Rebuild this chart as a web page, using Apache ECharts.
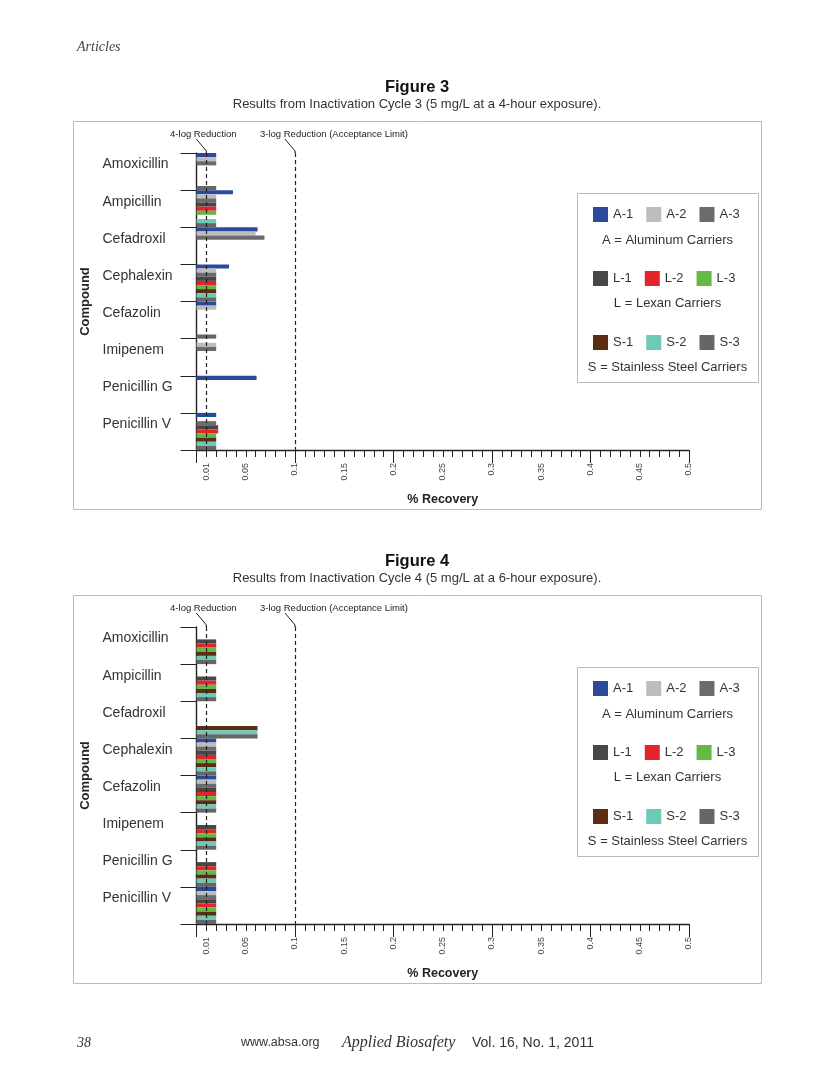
<!DOCTYPE html>
<html><head><meta charset="utf-8">
<script src="https://cdn.jsdelivr.net/npm/echarts@6/dist/echarts.min.js"></script>
<style>html,body{margin:0;padding:0;background:#fff}#c{width:835px;height:1080px}</style>
</head><body><div id="c"></div>
<script>
// ---------------- data ----------------
const compounds = ['Amoxicillin','Ampicillin','Cefadroxil','Cephalexin','Cefazolin','Imipenem','Penicillin G','Penicillin V'];
const seriesNames = ['A-1','A-2','A-3','L-1','L-2','L-3','S-1','S-2','S-3'];
const seriesColors = ['#2b4a9c','#bdbdbd','#6b6b6b','#474747','#e3252b','#63b946','#5b2e14','#6ecab6','#666666'];
const xTickLabels = ['0.01','0.05','0.1','0.15','0.2','0.25','0.3','0.35','0.4','0.45','0.5'];
const limitValues = [0.01, 0.1];
const limitLabels = ['4-log Reduction','3-log Reduction (Acceptance Limit)'];
const legendRows = [['A-1','A-2','A-3'],['L-1','L-2','L-3'],['S-1','S-2','S-3']];
const legendCaptions = ['A = Aluminum Carriers','L = Lexan Carriers','S = Stainless Steel Carriers'];
const figureTitles = ['Figure 3','Figure 4'];
const figureSubtitles = ['Results from Inactivation Cycle 3 (5 mg/L at a 4-hour exposure).','Results from Inactivation Cycle 4 (5 mg/L at a 6-hour exposure).'];

// Figure 3 (% recovery per compound, null = no bar)
const fig3_A1 = [0.02, 0.037, 0.062, 0.033, 0.02, null, 0.061, 0.02];
const fig3_A2 = [0.02, 0.02, 0.06, 0.02, 0.02, 0.02, null, null];
const fig3_A3 = [0.02, 0.02, 0.069, 0.02, null, 0.02, null, 0.02];
const fig3_L1 = [null, 0.02, null, 0.02, null, null, null, 0.022];
const fig3_L2 = [null, 0.02, null, 0.02, null, null, null, 0.022];
const fig3_L3 = [null, 0.02, null, 0.02, null, null, null, 0.02];
const fig3_S1 = [null, null, null, 0.02, null, null, null, 0.02];
const fig3_S2 = [null, 0.02, null, 0.02, null, null, null, 0.02];
const fig3_S3 = [0.02, 0.02, null, 0.02, 0.02, null, null, 0.02];

// Figure 4
const fig4_A1 = [null, null, null, 0.02, 0.02, null, null, 0.02];
const fig4_A2 = [null, null, null, 0.02, 0.02, null, null, 0.02];
const fig4_A3 = [null, null, null, 0.02, 0.02, null, null, 0.02];
const fig4_L1 = [0.02, 0.02, null, 0.02, 0.02, 0.02, 0.02, 0.02];
const fig4_L2 = [0.02, 0.02, null, 0.02, 0.02, 0.02, 0.02, 0.02];
const fig4_L3 = [0.02, 0.02, null, 0.02, 0.02, 0.02, 0.02, 0.02];
const fig4_S1 = [0.02, 0.02, 0.062, 0.02, 0.02, 0.02, 0.02, 0.02];
const fig4_S2 = [0.02, 0.02, 0.062, 0.02, 0.02, 0.02, 0.02, 0.02];
const fig4_S3 = [0.02, 0.02, 0.062, 0.02, 0.02, 0.02, 0.02, 0.02];

const figSeries = [
  [fig3_A1, fig3_A2, fig3_A3, fig3_L1, fig3_L2, fig3_L3, fig3_S1, fig3_S2, fig3_S3],
  [fig4_A1, fig4_A2, fig4_A3, fig4_L1, fig4_L2, fig4_L3, fig4_S1, fig4_S2, fig4_S3]
];

// ---------------- layout ----------------
const FIG_DY = 474;
const SANS = '"Liberation Sans", Arial, Helvetica, sans-serif';
const SERIF = '"Liberation Serif", "Times New Roman", serif';
const INK = '#222';

const chart = echarts.init(document.getElementById('c'), null, {renderer: 'canvas'});

const grids = [], xAxes = [], yAxes = [], series = [], legends = [], staticGraphics = [];

staticGraphics.push({type:'text', style:{text:'Articles', x:77, y:47, verticalAlign:'middle', font:'italic 14px ' + SERIF, fill:'#444'}});

figSeries.forEach((vals, g) => {
  const dy = g * FIG_DY;
  grids.push({left: 196.5, top: 153 + dy, width: 492.5, height: 297, outerBoundsMode: 'none'});
  xAxes.push({
    gridIndex: g, type: 'value', min: 0, max: 0.5, interval: 0.01, position: 'bottom',
    axisLine: {show: true, lineStyle: {color: INK, width: 1.4}},
    axisTick: {show: true, length: 7, lineStyle: {color: INK, width: 1}},
    axisLabel: {rotate: 90, fontSize: 9, color: '#444', margin: 13, fontFamily: SANS,
      formatter: v => { const s = String(+(+v).toFixed(2)); return xTickLabels.includes(s) ? s : ''; }},
    splitLine: {show: false},
    name: '% Recovery', nameLocation: 'middle', nameGap: 43,
    nameTextStyle: {fontSize: 12.5, fontWeight: 'bold', color: INK, fontFamily: SANS}
  });
  xAxes.push({
    gridIndex: g, type: 'value', min: 0, max: 0.5, interval: 0.1, position: 'bottom',
    axisLine: {show: false}, axisTick: {show: true, length: 13, lineStyle: {color: INK, width: 1}},
    axisLabel: {show: false}, splitLine: {show: false}
  });
  yAxes.push({
    gridIndex: g, type: 'category', data: compounds, inverse: true,
    axisLine: {show: true, lineStyle: {color: INK, width: 1.4}},
    axisTick: {show: true, length: 16, alignWithLabel: false, lineStyle: {color: INK, width: 1}},
    axisLabel: {align: 'left', verticalAlign: 'bottom', margin: 94, fontSize: 14, color: '#333', fontFamily: SANS},
    splitLine: {show: false},
    name: 'Compound', nameLocation: 'middle', nameGap: 101, nameRotate: 90,
    nameTextStyle: {fontSize: 13, fontWeight: 'bold', color: INK, fontFamily: SANS}
  });
  vals.forEach((data, i) => {
    const s = {
      type: 'bar', name: seriesNames[i], xAxisIndex: 2 * g, yAxisIndex: g, data: data,
      barGap: '0%', barCategoryGap: '0%', itemStyle: {color: seriesColors[i]}, silent: true
    };
    if (i === 0) {
      s.markLine = {symbol: 'none', silent: true, animation: false, label: {show: false},
        lineStyle: {type: [4, 3], color: INK, width: 1.2},
        data: limitValues.map(v => ({xAxis: v}))};
    }
    series.push(s);
  });
  legendRows.forEach((row, r) => {
    legends.push({
      data: row, left: 593, top: 207 + r * 64 + dy, orient: 'horizontal', icon: 'rect',
      itemWidth: 15, itemHeight: 15, itemGap: 13, padding: 0, selectedMode: false,
      textStyle: {fontSize: 13, color: '#333', fontFamily: SANS}
    });
    staticGraphics.push({type:'text', style:{text: legendCaptions[r], x: 667.5, y: 240 + r * 63.5 + dy,
      align:'center', verticalAlign:'middle', font: '13px ' + SANS, fill:'#333'}});
  });
  // frames and titles
  staticGraphics.push({type:'rect', shape:{x:73.5, y:121.5 + dy, width:688, height:388}, style:{fill:'none', stroke:'#bbb', lineWidth:1}, z:-1});
  staticGraphics.push({type:'rect', shape:{x:577.5, y:193.5 + dy, width:181, height:189}, style:{fill:'none', stroke:'#bbb', lineWidth:1}, z:-1});
  staticGraphics.push({type:'text', style:{text: figureTitles[g], x:417, y:87 + dy, align:'center', verticalAlign:'middle', font:'bold 16.5px ' + SANS, fill:'#111'}});
  staticGraphics.push({type:'text', style:{text: figureSubtitles[g], x:417, y:104 + dy, align:'center', verticalAlign:'middle', font:'13px ' + SANS, fill:'#333'}});
});

// footer
staticGraphics.push({type:'text', style:{text:'38', x:77, y:1043, verticalAlign:'middle', font:'italic 14px ' + SERIF, fill:'#333'}});
staticGraphics.push({type:'text', style:{text:'www.absa.org', x:241, y:1043, verticalAlign:'middle', font:'12.5px ' + SANS, fill:'#333'}});
staticGraphics.push({type:'text', style:{text:'Applied Biosafety', x:342, y:1043, verticalAlign:'middle', font:'italic 16px ' + SERIF, fill:'#333'}});
staticGraphics.push({type:'text', style:{text:'Vol. 16, No. 1, 2011', x:472, y:1043, verticalAlign:'middle', font:'14px ' + SANS, fill:'#333'}});

chart.setOption({
  animation: false,
  backgroundColor: '#fff',
  grid: grids, xAxis: xAxes, yAxis: yAxes, series: series, legend: legends,
  graphic: staticGraphics
});

// limit annotations placed through the axis scale
const annots = [];
figSeries.forEach((vals, g) => {
  const top = grids[g].top;
  limitValues.forEach((v, k) => {
    const px = chart.convertToPixel({xAxisIndex: 2 * g}, v);
    annots.push({type:'line', shape:{x1: px - 10, y1: top - 14, x2: px, y2: top - 2}, style:{stroke: INK, lineWidth: 1}});
    annots.push({type:'line', shape:{x1: px, y1: top - 2, x2: px, y2: top}, style:{stroke: INK, lineWidth: 1.2}});
    annots.push({type:'text', style:{text: limitLabels[k], x: k === 0 ? px - 3 : px - 35, y: top - 19,
      align: k === 0 ? 'center' : 'left', verticalAlign: 'middle', font: '9.5px ' + SANS, fill: INK}});
  });
});
chart.setOption({graphic: staticGraphics.concat(annots)});
</script>
</body></html>
